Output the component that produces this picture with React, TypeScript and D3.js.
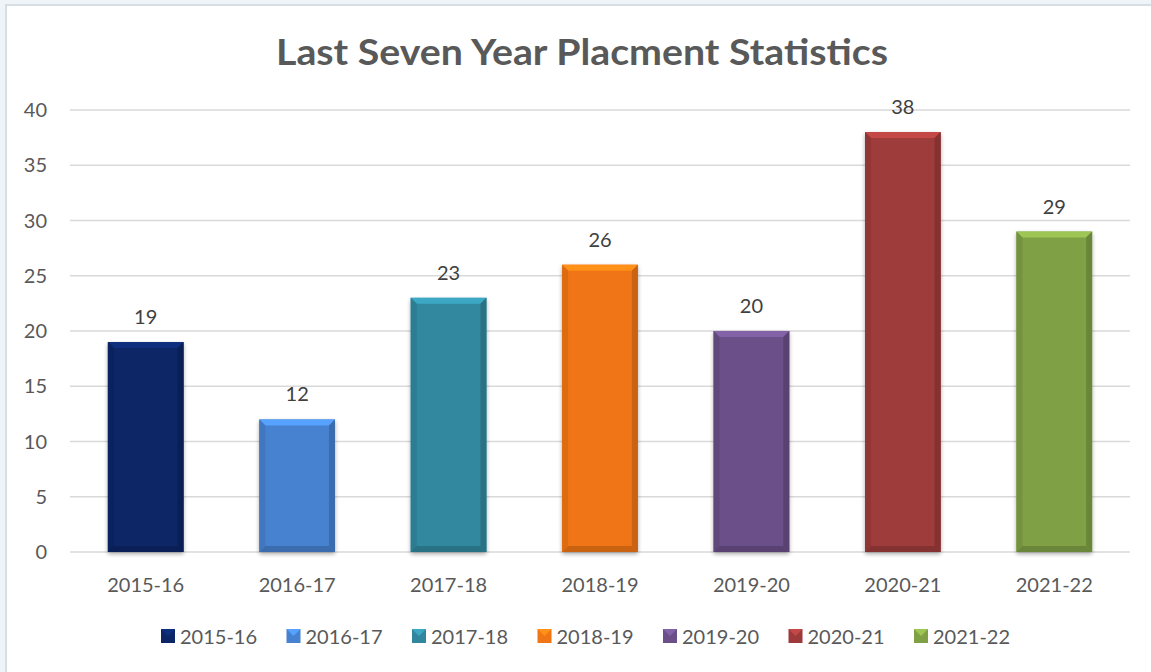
import React from "react";
import * as d3 from "d3";

const categories = ["2015-16", "2016-17", "2017-18", "2018-19", "2019-20", "2020-21", "2021-22"];
const values = [19, 12, 23, 26, 20, 38, 29];
const colors = ["#0b2566", "#4682d0", "#31889e", "#f07514", "#6a4f88", "#9e3a3a", "#7fa045"];
const yTicks = [0, 5, 10, 15, 20, 25, 30, 35, 40];
const title = "Last Seven Year Placment Statistics";

const W = 1151, H = 672;
const font = "Lato, 'Open Sans', sans-serif";
const textColor = "#595959";

export default function App() {
  const x = d3.scaleBand().domain(categories).range([70, 1130]).paddingInner(0.5).paddingOuter(0.25);
  const y = d3.scaleLinear().domain([0, 40]).range([552, 110]);
  const bw = x.bandwidth();
  const bev = 6;

  const legendItems = categories.map((c, i) => ({ c, color: colors[i] }));
  const legendStart = 161;
  const legendStep = 125.5;

  return (
    <svg width={W} height={H} style={{ position: "absolute", left: 0, top: 0 }} fontFamily={font}>
      <defs>
        <filter id="sh" x="-20%" y="-20%" width="140%" height="140%">
          <feGaussianBlur in="SourceAlpha" stdDeviation="2" />
          <feOffset dx="0" dy="2" result="b" />
          <feComponentTransfer><feFuncA type="linear" slope="0.35" /></feComponentTransfer>
          <feMerge><feMergeNode /><feMergeNode in="SourceGraphic" /></feMerge>
        </filter>
      </defs>
      <rect x={0} y={0} width={W} height={H} fill="#eef4f8" />
      <rect x={6} y={5} width={W + 10} height={H + 10} fill="#ffffff" stroke="#d6dde3" strokeWidth={2} />
      <text x={582} y={65} textAnchor="middle" fontSize={36} fontWeight="bold" fill={textColor} textLength={612} lengthAdjust="spacingAndGlyphs">{title}</text>
      {yTicks.map((t) => (
        <g key={t}>
          <line x1={70} x2={1130} y1={y(t)} y2={y(t)} stroke="#d9d9d9" strokeWidth={1.5} />
          <text x={47} y={y(t) + 7} textAnchor="end" fontSize={20} fill={textColor}>{t}</text>
        </g>
      ))}
      {categories.map((c, i) => {
        const x0 = x(c)!;
        const x1 = x0 + bw;
        const yt = y(values[i]);
        const yb = y(0);
        const base = d3.color(colors[i])!;
        const light = base.brighter(0.6).formatHex();
        const dark = base.darker(0.5).formatHex();
        const mid = base.darker(0.25).formatHex();
        return (
          <g key={c}>
            <g filter="url(#sh)">
              <rect x={x0} y={yt} width={bw} height={yb - yt} fill={colors[i]} />
            </g>
            <polygon points={`${x0},${yt} ${x1},${yt} ${x1 - bev},${yt + bev} ${x0 + bev},${yt + bev}`} fill={light} />
            <polygon points={`${x0},${yt} ${x0 + bev},${yt + bev} ${x0 + bev},${yb - bev} ${x0},${yb}`} fill={mid} />
            <polygon points={`${x1},${yt} ${x1 - bev},${yt + bev} ${x1 - bev},${yb - bev} ${x1},${yb}`} fill={dark} />
            <polygon points={`${x0},${yb} ${x0 + bev},${yb - bev} ${x1 - bev},${yb - bev} ${x1},${yb}`} fill={dark} />
            <text x={x0 + bw / 2} y={yt - 18} textAnchor="middle" fontSize={20} fill="#404040">{values[i]}</text>
            <text x={x0 + bw / 2} y={592} textAnchor="middle" fontSize={20} fill={textColor}>{c}</text>
          </g>
        );
      })}
      {legendItems.map((d, i) => {
        const lx = legendStart + i * legendStep;
        const base = d3.color(d.color)!;
        return (
          <g key={d.c}>
            <rect x={lx} y={629} width={14} height={14} fill={d.color} />
            <polygon points={`${lx},${629} ${lx + 14},${629} ${lx + 7},${636}`} fill={base.brighter(0.6).formatHex()} />
            <text x={lx + 19} y={644} fontSize={20} fill={textColor}>{d.c}</text>
          </g>
        );
      })}
    </svg>
  );
}
